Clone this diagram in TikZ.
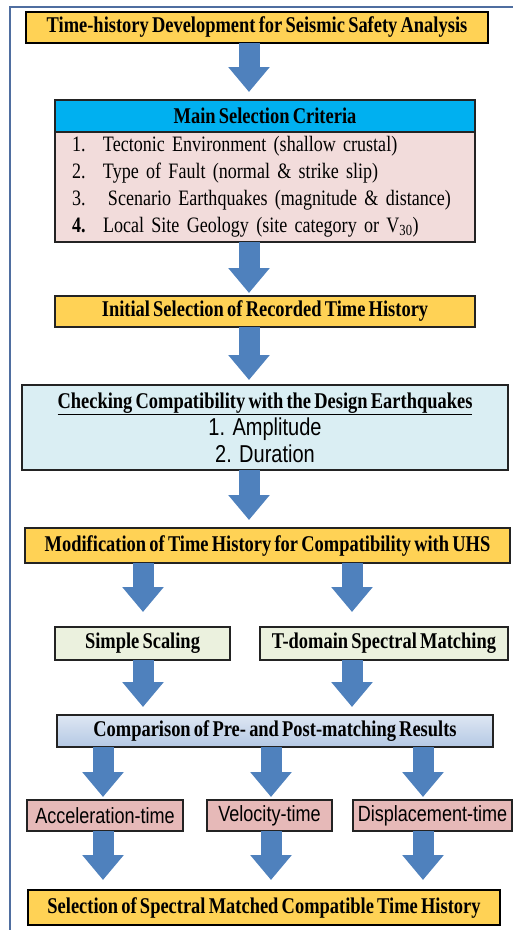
\documentclass[tikz,border=0pt]{standalone}
\usepackage{fontspec}
\setmainfont{Liberation Serif}
\newfontfamily\hdfont[FakeStretch=0.82]{Liberation Serif}
\newfontfamily\itemfont[FakeStretch=0.82, WordSpace=0.7]{Liberation Serif}
\newfontfamily\arfont[FakeStretch=0.82]{Liberation Sans}
\newcommand\hdsize{\fontsize{22.5}{27}\selectfont}
\newcommand\itemsize{\fontsize{22}{27}\selectfont}
\newcommand\sfsize{\fontsize{22}{27}\selectfont}
\newcommand\sflarge{\fontsize{24.4}{27}\selectfont}
\usepackage{tikz}
\usetikzlibrary{arrows.meta}
\definecolor{gold}{RGB}{255,210,85}
\definecolor{critcyan}{RGB}{0,176,240}
\definecolor{critpink}{RGB}{242,220,219}
\definecolor{checkblue}{RGB}{218,238,243}
\definecolor{scalegreen}{RGB}{235,241,222}
\definecolor{cmptop}{RGB}{222,231,243}
\definecolor{cmpbot}{RGB}{180,200,228}
\definecolor{timepink}{RGB}{230,185,184}
\definecolor{arrowblue}{RGB}{79,129,189}
\definecolor{framec}{RGB}{79,110,160}
\definecolor{edge}{RGB}{35,35,35}

\begin{document}
\begin{tikzpicture}[
    x=1pt, y=-1pt,
    box/.style = {draw=edge, line width=1.2pt, inner sep=0pt, outer sep=0pt,
        align=center, font=\hdfont\bfseries\hdsize},
    goldbox/.style = {box, fill=gold},
    topbox/.style = {goldbox, draw=black, line width=2.4pt},
    timebox/.style = {box, fill=timepink, minimum height=31pt, font=\arfont\sfsize},
    fat/.style = {arrowblue, line width=21pt, -{Triangle[width=40pt, length=25pt]}}
  ]
  \useasboundingbox (0,0) rectangle (513,930);
  \draw[framec, line width=2pt] (10,930) -- (10,7) -- (513,7);

  % columns of the block arrows
  \coordinate (mcol) at (249,0);
  \coordinate (lcol) at (143,0);
  \coordinate (rcol) at (352,0);

  \node[topbox, minimum width=462pt, minimum height=31pt] (title) at (257,27.5)
    {Time-history Development for Seismic Safety Analysis};

  \node[box, fill=critcyan, line width=1.5pt, minimum width=420pt, minimum height=32pt]
    (crithead) at (265,116) {Main Selection Criteria};
  \node[box, fill=critpink, line width=1.5pt, minimum width=420pt, minimum height=110pt,
    text width=386pt, align=left, font=\itemfont\itemsize] (critbody) at (265,187)
    {\makebox[31pt][l]{1.}Tectonic Environment (shallow crustal)\\
     \makebox[31pt][l]{2.}Type of Fault (normal \& strike slip)\\
     \makebox[36pt][l]{3.}Scenario Earthquakes (magnitude \& distance)\\
     \makebox[31pt][l]{\bfseries 4.}Local Site Geology (site category or V\textsubscript{30})};

  \node[goldbox, minimum width=420pt, minimum height=31pt] (initsel) at (265,311.5)
    {Initial Selection of Recorded Time History};

  \node[box, fill=checkblue, minimum width=486pt, minimum height=85pt] (check) at (265,427.5)
    {\underline{Checking Compatibility with the Design Earthquakes}\\
     {\arfont\mdseries\sflarge 1. Amplitude}\\
     {\arfont\mdseries\sflarge 2. Duration}};

  \node[goldbox, minimum width=485pt, minimum height=35pt] (modif) at (267.5,545.5)
    {Modification of Time History for Compatibility with UHS};

  \node[box, fill=scalegreen, line width=1.5pt, minimum width=175pt, minimum height=33pt]
    (sscale) at (142.5,643.5) {Simple Scaling};
  \node[box, fill=scalegreen, line width=1.5pt, minimum width=248pt, minimum height=33pt]
    (tdomain) at (384,643.5) {T-domain Spectral Matching};

  \node[box, top color=cmptop, bottom color=cmpbot, minimum width=436pt, minimum height=32pt]
    (compare) at (275,731) {Comparison of Pre- and Post-matching Results};

  \node[timebox, minimum width=156pt] (acctime) at (105,815.5) {Acceleration-time};
  \node[timebox, minimum width=125pt] (veltime) at (269.5,815.5) {Velocity-time};
  \node[timebox, minimum width=159pt] (disptime) at (432.5,815.5) {Displacement-time};

  \node[topbox, minimum width=472pt, minimum height=35pt] (selfinal) at (264,907.5)
    {Selection of Spectral Matched Compatible Time History};

  % main line
  \draw[fat, shorten >=8pt] (title.south -| mcol) -- (crithead.north -| mcol);
  \draw[fat, shorten >=3pt] (critbody.south -| mcol) -- (initsel.north -| mcol);
  \draw[fat, shorten >=5pt] (initsel.south -| mcol) -- (check.north -| mcol);
  \draw[fat, shorten >=8pt] (check.south -| mcol) -- (modif.north -| mcol);

  % two ways of matching
  \draw[fat, shorten >=15pt] (modif.south -| lcol) -- (sscale.north -| lcol);
  \draw[fat, shorten >=15pt] (modif.south -| rcol) -- (tdomain.north -| rcol);
  \draw[fat, shorten >=8pt] (sscale.south -| lcol) -- (compare.north -| lcol);
  \draw[fat, shorten >=8pt] (tdomain.south -| rcol) -- (compare.north -| rcol);

  % three time series
  \foreach \b/\c in {acctime/103, veltime/271, disptime/423} {
    \coordinate (col) at (\c,0);
    \draw[fat, shorten >=3pt] (compare.south -| col) -- (\b.north -| col);
    \draw[fat, shorten >=10pt] (\b.south -| col) -- (selfinal.north -| col);
  }
\end{tikzpicture}
\end{document}
